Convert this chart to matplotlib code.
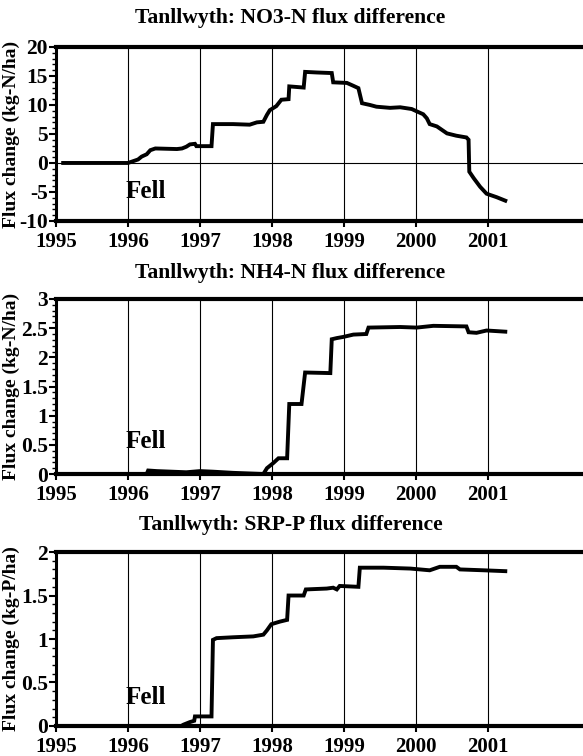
import matplotlib
matplotlib.use("Agg")
import matplotlib.pyplot as plt
from matplotlib.ticker import AutoMinorLocator, MultipleLocator, FuncFormatter

plt.rcParams["font.family"] = ["Liberation Serif", "DejaVu Serif"]
plt.rcParams["font.weight"] = "bold"

YEARS = [1995, 1996, 1997, 1998, 1999, 2000, 2001]

# NO3-N flux difference (kg-N/ha)
no3_t = [1995.10, 1996.00, 1996.07, 1996.14, 1996.19, 1996.26, 1996.31, 1996.38,
         1996.68, 1996.75, 1996.81, 1996.86, 1996.93, 1996.95, 1997.16, 1997.18,
         1997.46, 1997.69, 1997.79, 1997.88, 1997.93, 1997.97, 1998.06, 1998.13,
         1998.23, 1998.24, 1998.44, 1998.46, 1998.62, 1998.83, 1998.85, 1999.04,
         1999.13, 1999.20, 1999.25, 1999.36, 1999.45, 1999.64, 1999.78, 1999.94,
         2000.01, 2000.10, 2000.15, 2000.19, 2000.29, 2000.43, 2000.56, 2000.70,
         2000.73, 2000.74, 2000.80, 2000.89, 2000.98, 2001.12, 2001.24]
no3_v = [0.0, 0.0, 0.3, 0.6, 1.1, 1.5, 2.2, 2.5,
         2.4, 2.5, 2.8, 3.2, 3.3, 2.9, 2.9, 6.7,
         6.7, 6.6, 7.0, 7.1, 8.3, 9.1, 9.8, 10.9,
         11.0, 13.2, 13.0, 15.7, 15.6, 15.5, 13.9, 13.8,
         13.3, 12.9, 10.3, 10.0, 9.7, 9.5, 9.6, 9.3,
         8.9, 8.4, 7.7, 6.7, 6.3, 5.1, 4.7, 4.4,
         4.0, -1.5, -2.6, -4.1, -5.3, -5.9, -6.5]

# NH4-N flux difference (kg-N/ha)
nh4_t = [1995.00, 1996.26, 1996.28, 1996.40, 1996.81, 1997.00, 1997.18, 1997.46,
         1997.88, 1997.93, 1998.02, 1998.09, 1998.21, 1998.24, 1998.41, 1998.46,
         1998.81, 1998.83, 1998.90, 1998.99, 1999.13, 1999.31, 1999.34, 1999.78,
         2000.01, 2000.24, 2000.70, 2000.73, 2000.84, 2000.98, 2001.24]
nh4_v = [0.0, 0.0, 0.06, 0.05, 0.03, 0.05, 0.04, 0.02,
         0.0, 0.10, 0.19, 0.27, 0.27, 1.20, 1.20, 1.74,
         1.73, 2.31, 2.33, 2.35, 2.39, 2.40, 2.51, 2.52,
         2.51, 2.54, 2.53, 2.43, 2.42, 2.46, 2.44]

# SRP-P flux difference (kg-P/ha)
srp_t = [1995.00, 1996.74, 1996.77, 1996.86, 1996.92, 1996.93, 1997.16, 1997.18,
         1997.23, 1997.46, 1997.74, 1997.88, 1997.93, 1997.99, 1998.11, 1998.21,
         1998.23, 1998.44, 1998.47, 1998.76, 1998.85, 1998.90, 1998.94, 1999.20,
         1999.22, 1999.55, 1999.92, 2000.19, 2000.33, 2000.56, 2000.61, 2000.94,
         2001.24]
srp_v = [0.0, 0.0, 0.015, 0.045, 0.06, 0.11, 0.11, 0.99,
         1.01, 1.02, 1.03, 1.05, 1.10, 1.17, 1.20, 1.22,
         1.50, 1.50, 1.57, 1.58, 1.59, 1.57, 1.61, 1.60,
         1.82, 1.82, 1.81, 1.79, 1.83, 1.83, 1.80, 1.79,
         1.78]

panels = [
    dict(title="Tanllwyth: NO3-N flux difference", t=no3_t, v=no3_v,
         ylim=(-10, 20), major=5, ylabel="Flux change (kg-N/ha)",
         fell_y=-5.0, zero=True, rect=[0.096, 0.7077, 0.914, 0.2302], ty=0.976),
    dict(title="Tanllwyth: NH4-N flux difference", t=nh4_t, v=nh4_v,
         ylim=(0, 3), major=0.5, ylabel="Flux change (kg-N/ha)",
         fell_y=0.56, zero=False, rect=[0.096, 0.3730, 0.914, 0.2315], ty=0.639),
    dict(title="Tanllwyth: SRP-P flux difference", t=srp_t, v=srp_v,
         ylim=(0, 2), major=0.5, ylabel="Flux change (kg-P/ha)",
         fell_y=0.33, zero=False, rect=[0.096, 0.0397, 0.914, 0.2301], ty=0.3056),
]

fig = plt.figure(figsize=(5.83, 7.56), dpi=100)

for p in panels:
    ax = fig.add_axes(p["rect"])
    ax.set_xlim(1995, 2002.4)
    ax.set_ylim(*p["ylim"])

    for yr in YEARS[1:]:
        ax.axvline(yr, color="black", lw=0.8, zorder=1)
    if p["zero"]:
        ax.axhline(0, color="black", lw=0.8, zorder=1)

    ax.plot(p["t"], p["v"], color="black", lw=2.8, solid_joinstyle="miter", zorder=3)

    ax.text(1995.97, p["fell_y"], "Fell", fontsize=18, fontweight="bold",
            ha="left", va="center", zorder=4)

    ax.set_xticks(YEARS)
    ax.set_xticklabels([str(y) for y in YEARS])
    ax.yaxis.set_major_locator(MultipleLocator(p["major"]))
    ax.yaxis.set_minor_locator(AutoMinorLocator(5))
    ax.yaxis.set_major_formatter(FuncFormatter(lambda v, pos: f"{v:g}"))
    ax.tick_params(axis="y", which="major", labelsize=15.5, length=5, width=1.5,
                   pad=1)
    ax.tick_params(axis="y", which="minor", length=3, width=1.0)
    ax.tick_params(axis="x", which="major", labelsize=15, length=4, width=1.5,
                   pad=4)

    ax.spines["top"].set_linewidth(3)
    ax.spines["bottom"].set_linewidth(3)
    ax.spines["left"].set_linewidth(2.2)
    ax.spines["right"].set_visible(False)

    fig.text(0.498, p["ty"], p["title"], fontsize=15.6, fontweight="bold",
             ha="center", va="center")
    r = p["rect"]
    fig.text(0.02, r[1] + r[3] / 2, p["ylabel"], rotation=90, fontsize=14,
             fontweight="bold", ha="center", va="center")

fig.savefig("out.png", dpi=100)
